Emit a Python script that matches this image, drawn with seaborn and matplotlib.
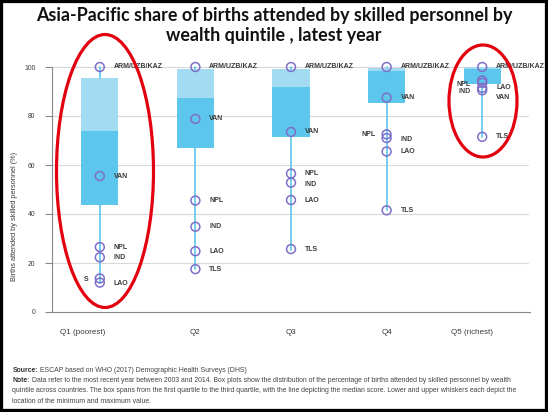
import numpy as np
import pandas as pd
import matplotlib
matplotlib.use("Agg")
import matplotlib.pyplot as plt
import matplotlib.transforms as mtrans
import seaborn as sns
from matplotlib.patches import Ellipse, Rectangle

# ---------------- data ----------------
quintiles = ["Q1 (poorest)", "Q2", "Q3", "Q4", "Q5 (richest)"]
box_q1 = [43.5, 67.0, 71.5, 85.5, 93.0]
box_med = [74.0, 87.5, 92.0, 98.5, 99.0]
box_q3 = [95.5, 99.0, 99.0, 99.5, 99.8]
whisk_lo = [12.0, 17.5, 25.5, 41.5, 71.5]
whisk_hi = [100.0, 100.0, 100.0, 100.0, 100.0]

pt_quintile = (["Q1 (poorest)"] * 6 + ["Q2"] * 6 + ["Q3"] * 6 + ["Q4"] * 6
               + ["Q5 (richest)"] * 6)
pt_label = ["ARM/UZB/KAZ", "VAN", "NPL", "IND", "S", "LAO",
            "ARM/UZB/KAZ", "VAN", "NPL", "IND", "LAO", "TLS",
            "ARM/UZB/KAZ", "VAN", "NPL", "IND", "LAO", "TLS",
            "ARM/UZB/KAZ", "VAN", "NPL", "IND", "LAO", "TLS",
            "ARM/UZB/KAZ", "NPL", "IND", "LAO", "VAN", "TLS"]
pt_value = [100, 55.5, 26.5, 22.3, 13.7, 12.0,
            100, 78.8, 45.5, 34.8, 24.8, 17.5,
            100, 73.5, 56.5, 52.8, 45.7, 25.7,
            100, 87.5, 72.5, 71.0, 65.5, 41.5,
            100, 94.5, 93.5, 91.5, 90.5, 71.5]
pt_side = ["r", "r", "r", "r", "l", "r",
           "r", "r", "r", "r", "r", "r",
           "r", "r", "r", "r", "r", "r",
           "r", "r", "l", "r", "r", "r",
           "r", "l", "l", "r", "r", "r"]
# label vertical nudges (points) -- layout only
pt_nudge = [0, 0, 0, 0, -1, -1,
            0, 0, 0, 0, 0, 0,
            0, 0, 0, -1, 0, 0,
            0, 0, 0, -1, 0, 0,
            0, -3, -6, 0, -5, 0]

title_lines = ["Asia-Pacific share of births attended by skilled personnel by",
               "wealth quintile , latest year"]

# ---------------- style ----------------
W, H = 548, 412
light_c = "#a3dcf2"
dark_c = "#5cc6ec"
whisk_c = "#5cc6ec"
mark_c = "#7f6fc8"
txt_c = "#3a3a3a"
base_font = ["Liberation Sans", "DejaVu Sans"]

sns.set_theme(style="white")
plt.rcParams["font.family"] = base_font

fig = plt.figure(figsize=(W / 100, H / 100), dpi=100)
ax_left, ax_right = 52 / W, 530 / W
y0_px, y100_px = 312, 67
ymax = 103
px_per = (y0_px - y100_px) / 100
ax_bottom = 1 - y0_px / H
ax_top = 1 - (y0_px - ymax * px_per) / H
ax = fig.add_axes([ax_left, ax_bottom, ax_right - ax_left, ax_top - ax_bottom])

df = pd.DataFrame({"quintile": pt_quintile, "value": pt_value,
                   "label": pt_label, "side": pt_side, "nudge": pt_nudge})

# grid
for v in [20, 40, 60, 80, 100]:
    ax.axhline(v, xmax=0.996, color="#d8d8d8", lw=0.8, zorder=0)

# boxes (light upper part + whiskers)
stats = []
for i in range(len(quintiles)):
    stats.append(dict(med=box_med[i], q1=box_q1[i], q3=box_q3[i],
                      whislo=whisk_lo[i], whishi=whisk_hi[i], fliers=[]))
pos = np.arange(len(quintiles))
ax.bxp(stats, positions=pos, widths=0.39, patch_artist=True,
       showfliers=False, showcaps=False, manage_ticks=False,
       boxprops=dict(facecolor=light_c, edgecolor="none", linewidth=0),
       whiskerprops=dict(color=whisk_c, linewidth=1.2),
       medianprops=dict(linewidth=0, color=dark_c), zorder=2)
# darker lower part (Q1 -> median)
ax.bar(pos, np.array(box_med) - np.array(box_q1), bottom=box_q1,
       width=0.39, color=dark_c, edgecolor="none", zorder=2.1)

# points
sns.stripplot(data=df, x="quintile", y="value", order=quintiles, jitter=False,
              size=6.4, linewidth=1.1, color=mark_c, ax=ax, zorder=3)
for coll in ax.collections:
    coll.set_facecolor("none")
    coll.set_edgecolor(mark_c)
    coll.set_linewidth(1.1)

# point labels
for _, r in df.iterrows():
    xi = quintiles.index(r["quintile"])
    if r["side"] == "r":
        off, ha = 10, "left"
    else:
        off, ha = -8, "right"
    ax.annotate(r["label"], (xi, r["value"]), xytext=(off, r["nudge"]),
                textcoords="offset points", ha=ha, va="center",
                fontsize=5.0, color=txt_c, fontweight="bold",
                annotation_clip=False, zorder=4)

# axes formatting
ax.set_xlim(-0.5, len(quintiles) - 0.5)
ax.set_ylim(0, ymax)
ax.set_xlabel("")
ax.set_ylabel("")
ax.set_yticks([0, 20, 40, 60, 80, 100])
ax.set_yticklabels(["0", "20", "40", "60", "80", "100"])
ax.set_xticks(pos)
ax.set_xticklabels(quintiles)
ax.set_xticks(np.arange(0.5, len(quintiles)), minor=True)
ax.tick_params(axis="x", which="major", length=0, pad=12, labelsize=5.8,
               labelcolor=txt_c)
ax.tick_params(axis="x", which="minor", length=5, width=0.8,
               color="#888888", direction="out")
ax.tick_params(axis="y", which="major", length=5, width=0.8, color="#888888",
               pad=7, labelsize=4.9, labelcolor=txt_c, direction="out",
               left=True)
# the end labels sit somewhat left of their category centre in the reference
shifts = [-17, 0, 0, 0, -10]
for lab, dx in zip(ax.get_xticklabels(), shifts):
    lab.set_transform(lab.get_transform()
                      + mtrans.ScaledTranslation(dx / 100, 0, fig.dpi_scale_trans))
for s in ["top", "right"]:
    ax.spines[s].set_visible(False)
for s in ["left", "bottom"]:
    ax.spines[s].set_color("#888888")
    ax.spines[s].set_linewidth(0.8)
ax.spines["left"].set_bounds(0, 100)
ax.patch.set_alpha(0)

fig.text(15 / W, 1 - 216 / H, "Births attended by skilled personnel (%)",
         rotation=90, ha="center", va="center", fontsize=5.3, color=txt_c)

# title
for line, yc in zip(title_lines, [15.5, 36]):
    fig.text(0.5, 1 - yc / H, line, ha="center", va="center",
             fontsize=12.9, fontweight="bold", family=["Lato", "DejaVu Sans"],
             color="#111111")

# footer
foot_fs = 4.95
fx = 12.5 / W
t1 = fig.text(fx, 1 - 370 / H, "Source:", fontsize=foot_fs, fontweight="bold",
              va="center", color="#333333")
ax.annotate(" ESCAP based on WHO (2017) Demographic Health Surveys (DHS)",
            xy=(1, 0.5), xycoords=t1, va="center", ha="left",
            fontsize=foot_fs, color="#444444", annotation_clip=False)
t2 = fig.text(fx, 1 - 380.7 / H, "Note:", fontsize=foot_fs, fontweight="bold",
              va="center", color="#333333")
ax.annotate(" Data refer to the most recent year between 2003 and 2014. Box plots show the "
            "distribution of the percentage of births attended by skilled personnel by wealth",
            xy=(1, 0.5), xycoords=t2, va="center", ha="left",
            fontsize=foot_fs, color="#444444", annotation_clip=False)
fig.text(fx, 1 - 391 / H,
         "quintile across countries. The box spans from the first quartile to the third "
         "quartile, with the line depicting the median score. Lower and upper whiskers each depict the",
         fontsize=foot_fs, va="center", color="#444444")
fig.text(fx, 1 - 401.7 / H, "location of the minimum and maximum value.",
         fontsize=foot_fs, va="center", color="#444444")

# red highlight ellipses (figure pixel coords -> fraction)
for cx, cy, ew, eh in [(105, 171, 97, 273), (483, 101, 68, 112)]:
    fig.add_artist(Ellipse((cx / W, 1 - cy / H), ew / W, eh / H,
                           transform=fig.transFigure, fill=False,
                           edgecolor="#e3000f", linewidth=2.3, zorder=10))

# black frame
fig.add_artist(Rectangle((0, 0), 1, 1, transform=fig.transFigure, fill=False,
                         edgecolor="black", linewidth=4.5, zorder=20))

fig.savefig("out.png", dpi=100)
